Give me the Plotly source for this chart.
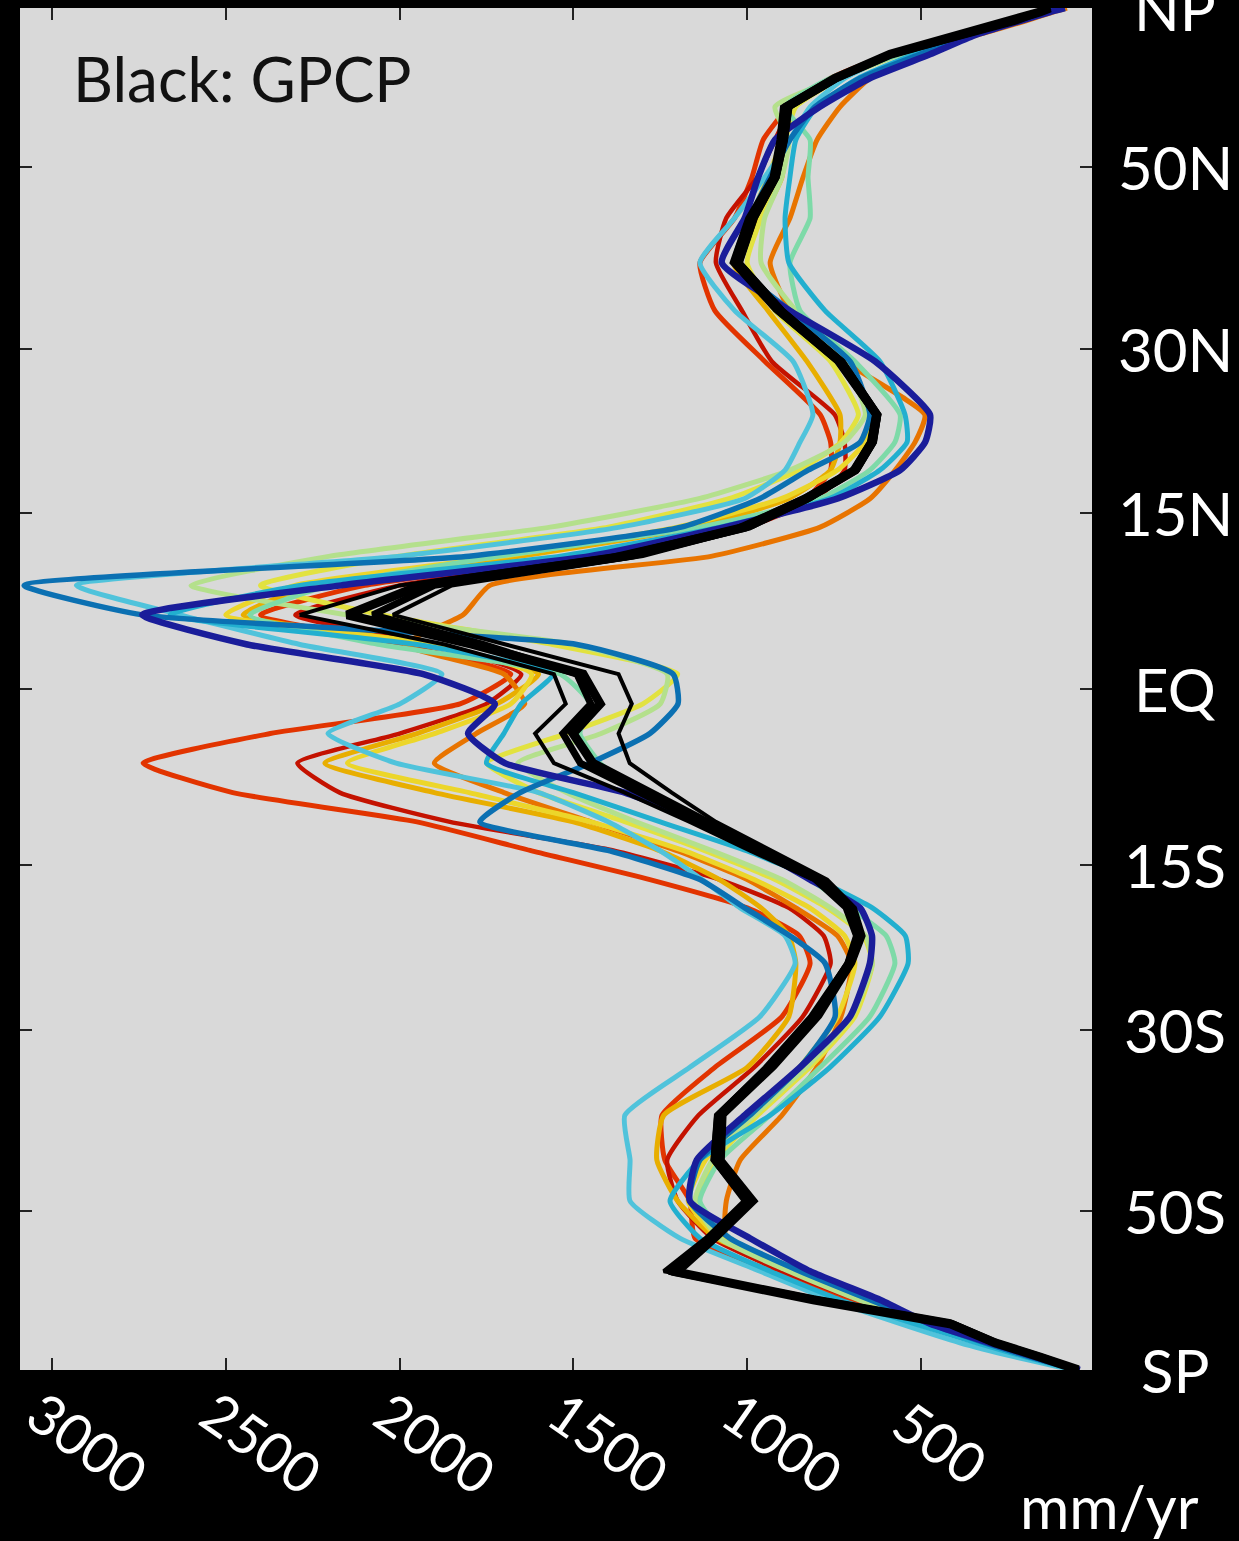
import math
import plotly.graph_objects as go

# latitude grid (deg), south -> north
lat = [-88.75, -83.75, -78.75, -73.75, -68.75, -63.75, -58.75, -53.75, -48.75, -43.75,
       -38.75, -33.75, -28.75, -23.75, -21.25, -18.75, -16.25, -13.75, -11.25, -8.75,
       -6.25, -3.75, -1.25, 1.25, 3.75, 6.25, 8.75, 11.25, 13.75, 16.25,
       18.75, 21.25, 23.75, 28.75, 33.75, 38.75, 43.75, 48.75, 53.75, 58.75,
       63.75, 68.75, 73.75, 78.75, 83.75, 88.75]

# model precipitation (mm/yr)
m_red = [45, 85, 170, 300, 480, 700, 930, 1150, 1165, 1237,
         1245, 1093, 900, 819, 850, 1000, 1280, 1620, 1950, 2480,
         2738, 2372, 1826, 1680, 2000, 2400, 2100, 1500, 1050, 830,
         760, 760, 790, 949, 1093, 1136, 1036, 986, 954, 880,
         760, 590, 390, 235, 150, 100]
m_darkred = [47, 88, 175, 305, 470, 680, 900, 1100, 1200, 1230,
             1140, 980, 840, 760, 780, 880, 1080, 1380, 1855, 2172,
             2294, 2000, 1750, 1650, 1900, 2300, 2000, 1400, 1000, 800,
             720, 720, 748, 929, 1015, 1090, 1060, 970, 920, 870,
             750, 580, 385, 232, 148, 98]
m_orange = [45, 85, 170, 300, 460, 650, 870, 1060, 1060, 1020,
            900, 800, 730, 700, 740, 860, 1000, 1200, 1450, 1700,
            1900, 1780, 1640, 1700, 1984, 1817, 1740, 1101, 790, 646,
            574, 517, 489, 719, 877, 934, 877, 839, 799, 733,
            647, 520, 340, 200, 120, 80]
m_gold = [45, 90, 180, 310, 470, 640, 850, 1090, 1200, 1260,
          1240, 1000, 880, 860, 880, 960, 1080, 1250, 1500, 1900,
          2215, 1950, 1720, 1600, 1900, 2450, 2250, 1650, 1150, 880,
          760, 733, 733, 828, 940, 1040, 960, 900, 890, 880,
          740, 580, 390, 235, 150, 105]
m_yellow2 = [48, 92, 185, 320, 480, 660, 860, 1080, 1170, 1120,
             1000, 850, 740, 690, 720, 820, 980, 1180, 1450, 1800,
             2150, 1900, 1680, 1620, 1900, 2500, 2300, 1700, 1200, 900,
             740, 660, 640, 740, 900, 1030, 990, 940, 900, 880,
             750, 580, 380, 230, 150, 105]
m_yellow = [50, 95, 195, 325, 490, 670, 870, 1070, 1140, 1090,
            970, 820, 690, 640, 665, 770, 920, 1120, 1350, 1600,
            1750, 1520, 1300, 1200, 1560, 2050, 2400, 2000, 1400, 1050,
            850, 730, 680, 760, 920, 1000, 960, 910, 890, 860,
            730, 560, 370, 225, 145, 100]
m_lightgreen = [52, 100, 200, 330, 500, 680, 880, 1080, 1150, 1100,
                980, 830, 700, 640, 660, 760, 900, 1100, 1320, 1520,
                1660, 1420, 1250, 1230, 1500, 2150, 2600, 2200, 1567, 1136,
                877, 720, 660, 720, 860, 960, 950, 900, 880, 920,
                740, 560, 370, 220, 140, 95]
m_mint = [50, 100, 190, 316, 474, 647, 848, 1050, 1136, 1078,
          934, 790, 647, 575, 600, 704, 819, 963, 1136, 1309,
          1423, 1481, 1452, 1538, 2057, 2431, 2200, 1711, 1136, 790,
          647, 575, 560, 690, 848, 877, 819, 825, 819, 891,
          761, 560, 374, 230, 143, 86]
m_cyan1 = [57, 115, 230, 388, 560, 762, 963, 1194, 1337, 1337,
           1352, 1165, 963, 862, 891, 1020, 1130, 1250, 1400, 1600,
           2010, 2206, 1999, 1878, 2287, 2632, 2930, 1999, 1366, 1007,
           891, 848, 811, 868, 1036, 1136, 1036, 949, 877, 819,
           719, 575, 374, 230, 143, 86]
m_cyan2 = [55, 100, 200, 340, 520, 733, 934, 1136, 1222, 1136,
           934, 762, 618, 537, 545, 640, 800, 1000, 1250, 1500,
           1750, 1700, 1650, 1560, 1950, 2660, 2287, 1538, 1078, 762,
           618, 540, 546, 618, 776, 880, 891, 877, 860, 800,
           680, 520, 360, 215, 130, 90]
m_steel = [48, 94, 187, 316, 474, 647, 848, 1050, 1165, 1136,
           992, 848, 747, 776, 877, 1007, 1136, 1395, 1769, 1653,
           1452, 1280, 1199, 1213, 1490, 2740, 3080, 1800, 1190, 963,
           825, 675, 647, 704, 877, 1036, 992, 934, 877, 805,
           675, 503, 359, 230, 143, 100]
m_navy = [43, 86, 172, 302, 474, 618, 819, 992, 1165, 1145,
          1007, 848, 704, 647, 641, 675, 819, 963, 1136, 1352,
          1697, 1803, 1726, 1932, 2438, 2740, 2168, 1452, 1064, 739,
          560, 488, 474, 632, 877, 1073, 1007, 968, 920, 791,
          647, 474, 345, 215, 129, 86]

# GPCP observations (mm/yr)
gpcp_a = [45, 80, 150, 275, 400, 790, 1240, 1120, 1010, 1100,
          1090, 950, 820, 715, 690, 720, 810, 990, 1165, 1352,
          1556, 1610, 1522, 1556, 1870, 2287, 2000, 1395, 1030, 845,
          700, 650, 635, 745, 920, 1045, 1000, 930, 910, 900,
          760, 600, 395, 235, 160, 130]
gpcp_b = [48, 86, 158, 287, 417, 810, 1216, 1101, 992, 1087,
          1079, 934, 805, 705, 675, 704, 790, 960, 1120, 1290,
          1444, 1501, 1423, 1472, 1790, 2151, 1940, 1352, 1007, 830,
          690, 641, 627, 733, 906, 1030, 986, 920, 898, 886,
          747, 589, 388, 230, 158, 129]
gpcp_c = [47, 84, 155, 282, 410, 800, 1225, 1110, 1000, 1095,
          1085, 940, 810, 710, 680, 710, 800, 970, 1135, 1310,
          1480, 1530, 1450, 1490, 1760, 2077, 1900, 1330, 995, 822,
          686, 637, 624, 728, 900, 1024, 980, 916, 893, 880,
          741, 584, 384, 228, 156, 128]
gpcp_d = [50, 90, 165, 300, 430, 830, 1190, 1085, 975, 1070,
          1065, 920, 790, 695, 665, 690, 770, 930, 1090, 1217,
          1338, 1370, 1332, 1370, 1700, 2019, 1850, 1300, 985, 815,
          680, 632, 620, 722, 895, 1018, 975, 912, 888, 875,
          735, 578, 380, 225, 155, 127]

x_ticks = [3000, 2500, 2000, 1500, 1000, 500]
y_tick_lat = [-90, -50, -30, -15, 0, 15, 30, 50, 90]
y_tick_labels = ["SP", "50S", "30S", "15S", "EQ", "15N", "30N", "50N", "NP"]

FONT = "Lato, 'Open Sans', sans-serif"

ys = [math.sin(math.radians(v)) for v in lat]

models = [
    (m_red, "#e23400", 5),
    (m_darkred, "#c41200", 4.5),
    (m_orange, "#e87400", 5),
    (m_gold, "#e8ae00", 5),
    (m_yellow2, "#ecd62a", 5),
    (m_yellow, "#e2e240", 5),
    (m_lightgreen, "#b4e08c", 5),
    (m_mint, "#7edaa8", 5),
    (m_cyan1, "#50c3db", 5),
    (m_cyan2, "#22afcf", 5),
    (m_steel, "#0b70b2", 5.5),
    (m_navy, "#1a1d9a", 6.5),
]
obs = [
    (gpcp_a, 4),
    (gpcp_d, 4),
    (gpcp_c, 7),
    (gpcp_b, 9),
]

fig = go.Figure()
for vals, col, w in models:
    fig.add_trace(go.Scatter(x=vals, y=ys, mode="lines",
                             line=dict(color=col, width=w, shape="spline", smoothing=0.5),
                             showlegend=False, hoverinfo="skip"))
for vals, w in obs:
    fig.add_trace(go.Scatter(x=vals, y=ys, mode="lines",
                             line=dict(color="#000000", width=w), showlegend=False,
                             hoverinfo="skip"))

L, R, T, B = 20, 147, 8, 171
W, H = 1239, 1541
pw, ph = W - L - R, H - T - B

annotations = []
# x tick labels (rotated)
for v in x_ticks:
    s = str(v)
    annotations.append(dict(x=v, xref="x", y=0, yref="paper", text=s, showarrow=False,
                            textangle=35, xanchor="center", yanchor="middle",
                            xshift=36 if len(s) == 4 else 20, yshift=-72,
                            font=dict(family=FONT, size=56, color="white")))
# y tick labels (centered, right side)
for la, t in zip(y_tick_lat, y_tick_labels):
    annotations.append(dict(x=(1175 - L) / pw, xref="paper", y=math.sin(math.radians(la)), yref="y",
                            text=t, showarrow=False, xanchor="center", yanchor="middle",
                            font=dict(family=FONT, size=60, color="white")))
annotations.append(dict(x=(71 - L) / pw, xref="paper", y=(T + ph - 78) / ph, yref="paper",
                        text="Black: GPCP", showarrow=False, xanchor="left", yanchor="middle",
                        font=dict(family=FONT, size=62, color="#111111")))
annotations.append(dict(x=(1109 - L) / pw, xref="paper", y=(T + ph - 1506) / ph, yref="paper",
                        text="mm/yr", showarrow=False, xanchor="center", yanchor="middle",
                        font=dict(family=FONT, size=60, color="white")))

fig.update_layout(
    width=W, height=H,
    margin=dict(l=L, r=R, t=T, b=B),
    paper_bgcolor="#000000", plot_bgcolor="#d9d9d9",
    hovermode=False,
    annotations=annotations,
    xaxis=dict(range=[3092, 8], tickvals=x_ticks, showticklabels=False,
               ticks="inside", ticklen=12, tickwidth=2, tickcolor="#222222",
               mirror="ticks", showgrid=False, zeroline=False, showline=False),
    yaxis=dict(range=[-1, 1], tickvals=[math.sin(math.radians(v)) for v in y_tick_lat],
               showticklabels=False, ticks="inside", ticklen=12, tickwidth=2,
               tickcolor="#222222", mirror="ticks", showgrid=False, zeroline=False,
               showline=False),
)

fig.write_html(
    "out.html",
    config={"displayModeBar": False, "staticPlot": True},
    post_script="document.body.style.margin='0px';document.body.style.background='#000';"
                "document.body.style.overflow='hidden';",
)
